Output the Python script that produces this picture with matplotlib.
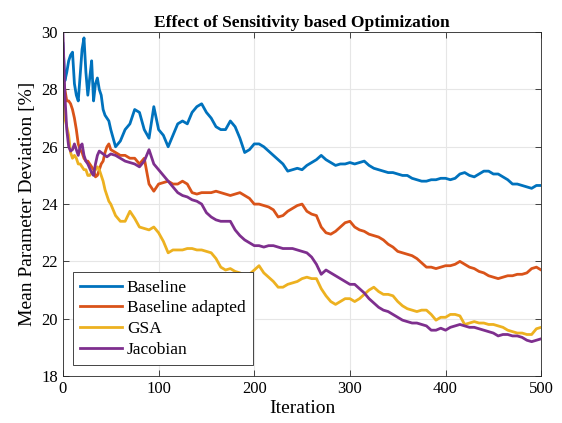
import numpy as np
import matplotlib
matplotlib.use("Agg")
import matplotlib.pyplot as plt

# iterations: 0..50 step 2, then 55..500 step 5
iter_early = list(range(0, 51, 2))
iter_late = list(range(55, 501, 5))
iterations = iter_early + iter_late

baseline_early = [29.6, 28.3, 28.6, 29.0, 29.2, 29.3, 28.2, 27.8, 27.6, 28.5,
                  29.4, 29.8, 28.6, 27.8, 28.4, 29.0, 27.6, 28.2, 28.4, 28.0,
                  27.8, 27.3, 27.1, 27.0, 26.9, 26.6]
baseline_late = [26.0, 26.2, 26.6, 26.8, 27.3, 27.2, 26.6, 26.3, 27.4, 26.6,
                 26.4, 26.0, 26.4, 26.8, 26.9, 26.8, 27.2, 27.4, 27.5, 27.2,
                 27.0, 26.7, 26.6, 26.6, 26.9, 26.7, 26.3, 25.8, 25.9, 26.1,
                 26.1, 26.0, 25.85, 25.7, 25.55, 25.4, 25.15, 25.2, 25.25, 25.2,
                 25.35, 25.45, 25.55, 25.7, 25.55, 25.45, 25.35, 25.4, 25.4, 25.45,
                 25.4, 25.45, 25.5, 25.35, 25.25, 25.2, 25.15, 25.1, 25.1, 25.05,
                 25.0, 25.0, 24.9, 24.85, 24.8, 24.8, 24.85, 24.85, 24.9, 24.9,
                 24.85, 24.9, 25.05, 25.1, 25.0, 24.95, 25.05, 25.15, 25.15, 25.05,
                 25.05, 24.95, 24.85, 24.7, 24.7, 24.65, 24.6, 24.55, 24.65, 24.65]

adapted_early = [28.4, 28.0, 27.6, 27.6, 27.5, 27.3, 27.0, 26.6, 26.1, 25.9,
                 25.8, 25.6, 25.5, 25.5, 25.4, 25.3, 25.2, 24.95, 25.0, 25.2,
                 25.4, 25.5, 25.8, 26.0, 26.1, 25.9]
adapted_late = [25.8, 25.7, 25.7, 25.6, 25.6, 25.4, 25.6, 24.7, 24.45, 24.7,
                24.75, 24.8, 24.7, 24.7, 24.8, 24.7, 24.4, 24.35, 24.4, 24.4,
                24.4, 24.45, 24.4, 24.35, 24.3, 24.35, 24.4, 24.3, 24.2, 24.0,
                24.0, 23.95, 23.9, 23.8, 23.55, 23.6, 23.75, 23.85, 23.95, 24.0,
                23.75, 23.65, 23.6, 23.2, 23.0, 22.95, 23.05, 23.2, 23.35, 23.4,
                23.2, 23.1, 23.05, 22.95, 22.9, 22.85, 22.75, 22.6, 22.5, 22.35,
                22.3, 22.25, 22.2, 22.1, 21.95, 21.8, 21.8, 21.75, 21.8, 21.85,
                21.85, 21.9, 22.0, 21.9, 21.8, 21.75, 21.65, 21.6, 21.5, 21.45,
                21.4, 21.45, 21.5, 21.5, 21.55, 21.55, 21.6, 21.75, 21.8, 21.7]

gsa_early = [28.6, 27.0, 26.7, 26.4, 25.8, 25.6, 25.7, 25.6, 25.4, 25.4,
             25.3, 25.2, 25.2, 25.0, 25.0, 25.1, 25.1, 25.2, 25.3, 25.2,
             25.0, 24.8, 24.5, 24.3, 24.1, 24.0]
gsa_late = [23.6, 23.4, 23.4, 23.75, 23.5, 23.2, 23.15, 23.1, 23.2, 23.0,
            22.7, 22.3, 22.4, 22.4, 22.4, 22.45, 22.45, 22.4, 22.4, 22.35,
            22.3, 22.1, 21.8, 21.7, 21.75, 21.65, 21.6, 21.5, 21.55, 21.7,
            21.85, 21.6, 21.45, 21.3, 21.1, 21.1, 21.2, 21.25, 21.3, 21.4,
            21.45, 21.4, 21.4, 21.05, 20.8, 20.6, 20.5, 20.6, 20.7, 20.7,
            20.6, 20.7, 20.85, 21.0, 21.1, 20.95, 20.85, 20.85, 20.8, 20.6,
            20.45, 20.35, 20.3, 20.25, 20.3, 20.3, 20.15, 19.95, 20.05, 20.05,
            20.15, 20.15, 20.1, 19.8, 19.85, 19.9, 19.85, 19.85, 19.8, 19.8,
            19.75, 19.7, 19.6, 19.55, 19.5, 19.5, 19.45, 19.45, 19.65, 19.7]

jacobian_early = [30.0, 27.8, 26.6, 26.0, 25.85, 25.9, 26.1, 25.9, 25.7, 26.0,
                  26.1, 25.7, 25.5, 25.4, 25.25, 25.1, 25.0, 25.4, 25.7, 25.85,
                  25.8, 25.75, 25.7, 25.65, 25.7, 25.75]
jacobian_late = [25.7, 25.6, 25.5, 25.45, 25.4, 25.3, 25.5, 25.9, 25.4, 25.2,
                 25.0, 24.8, 24.6, 24.4, 24.3, 24.25, 24.15, 24.1, 24.0, 23.7,
                 23.55, 23.45, 23.4, 23.4, 23.4, 23.1, 22.9, 22.75, 22.65, 22.55,
                 22.55, 22.5, 22.55, 22.55, 22.5, 22.45, 22.45, 22.45, 22.4, 22.35,
                 22.3, 22.15, 21.9, 21.55, 21.7, 21.6, 21.5, 21.4, 21.3, 21.2,
                 21.2, 21.05, 20.9, 20.7, 20.55, 20.4, 20.3, 20.25, 20.15, 20.05,
                 19.95, 19.9, 19.85, 19.85, 19.8, 19.75, 19.6, 19.6, 19.67, 19.6,
                 19.7, 19.75, 19.8, 19.75, 19.7, 19.7, 19.65, 19.6, 19.55, 19.5,
                 19.4, 19.45, 19.45, 19.4, 19.4, 19.35, 19.25, 19.2, 19.25, 19.3]

series_names = ["Baseline", "Baseline adapted", "GSA", "Jacobian"]
series = [baseline_early + baseline_late,
          adapted_early + adapted_late,
          gsa_early + gsa_late,
          jacobian_early + jacobian_late]
colors = ["#0072BD", "#D95319", "#EDB120", "#7E2F8E"]

x_ticks = [0, 100, 200, 300, 400, 500]
y_ticks = [18, 20, 22, 24, 26, 28, 30]

plt.rcParams['font.family'] = ['Liberation Serif', 'DejaVu Serif']

fig = plt.figure(figsize=(5.62, 4.23), dpi=100)
ax = fig.add_axes([0.112, 0.111, 0.851, 0.813])

for name, vals, c in zip(series_names, series, colors):
    ax.plot(iterations, vals, color=c, lw=2.0, label=name)

ax.set_xlim(0, 500)
ax.set_ylim(18, 30)
ax.set_xticks(x_ticks)
ax.set_yticks(y_ticks)
ax.grid(True, color="#e6e6e6", lw=0.8)
ax.set_axisbelow(True)
ax.tick_params(direction="in", top=True, right=True, labelsize=12,
               color="#262626", length=4, width=0.6)
for s in ax.spines.values():
    s.set_color("#262626")
    s.set_linewidth(0.6)

ax.set_xlabel("Iteration", fontsize=14, labelpad=2)
ax.set_ylabel("Mean Parameter Deviation [%]", fontsize=14, labelpad=4)
ax.set_title("Effect of Sensitivity based Optimization", fontsize=12.5,
             fontweight="bold", pad=4)

leg = ax.legend(loc="lower left", fontsize=12.5, frameon=True, fancybox=False,
                edgecolor="#262626", framealpha=1, borderpad=0.4,
                labelspacing=0.27, handlelength=2.4, handletextpad=0.3,
                borderaxespad=0.0, bbox_to_anchor=(0.021, 0.032))
leg.get_frame().set_linewidth(0.6)

fig.savefig("out.png", dpi=100)
